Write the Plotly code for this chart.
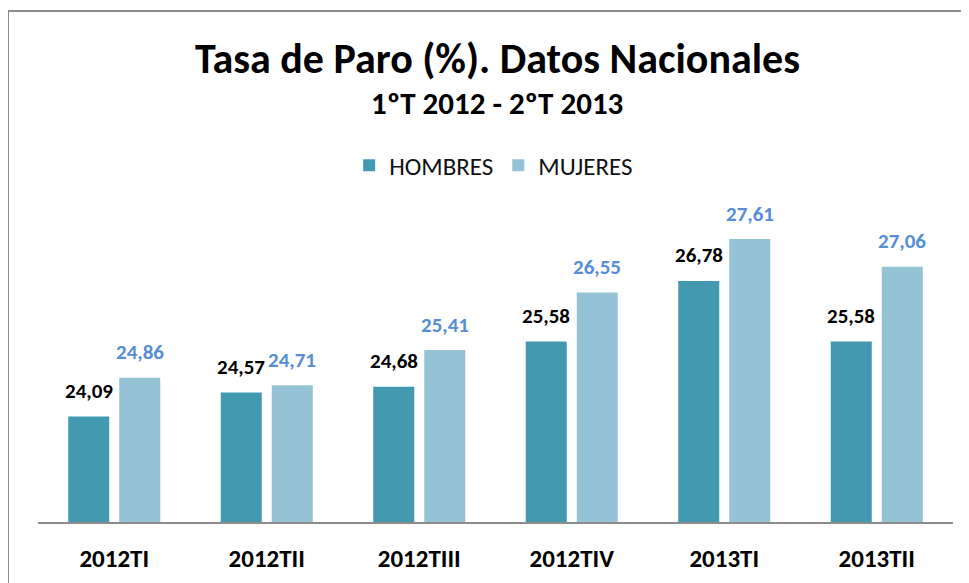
import plotly.graph_objects as go

categories = ["2012TI", "2012TII", "2012TIII", "2012TIV", "2013TI", "2013TII"]
hombres = [24.09, 24.57, 24.68, 25.58, 26.78, 25.58]
mujeres = [24.86, 24.71, 25.41, 26.55, 27.61, 27.06]
hombres_labels = ["24,09", "24,57", "24,68", "25,58", "26,78", "25,58"]
mujeres_labels = ["24,86", "24,71", "25,41", "26,55", "27,61", "27,06"]

FONT = "Carlito, Calibri, Lato, sans-serif"
C_H = "#4399B0"
C_M = "#93C3D4"

fig = go.Figure()
fig.add_trace(go.Bar(name="HOMBRES", x=categories, y=hombres, marker_color=C_H,
                     marker_line_width=0))
fig.add_trace(go.Bar(name="MUJERES", x=categories, y=mujeres, marker_color=C_M,
                     marker_line_width=0))

for i, c in enumerate(categories):
    fig.add_annotation(x=c, y=hombres[i], text="<b>%s</b>" % hombres_labels[i],
                       xshift=-25.5, yshift=25.5, showarrow=False, yanchor="middle",
                       font=dict(family=FONT, size=21, color="#000000"))
    fig.add_annotation(x=c, y=mujeres[i], text="<b>%s</b>" % mujeres_labels[i],
                       xshift=25.5, yshift=25.5, showarrow=False, yanchor="middle",
                       font=dict(family=FONT, size=21, color="#558ED5"))

fig.add_annotation(xref="paper", yref="paper", x=0.502, y=1.313,
                   text="<b>Tasa de Paro (%). Datos Nacionales</b>", showarrow=False,
                   yanchor="middle", font=dict(family=FONT, size=42, color="#000000"))
fig.add_annotation(xref="paper", yref="paper", x=0.502, y=1.186,
                   text="<b>1ºT 2012 - 2ºT 2013</b>", showarrow=False,
                   yanchor="middle", font=dict(family=FONT, size=31, color="#000000"))

# chart border
fig.add_shape(type="rect", xref="paper", yref="paper", x0=-0.0328, x1=1.2,
              y0=-0.4, y1=1.4476, line=dict(color="#8C8C8C", width=2), layer="below")

fig.update_layout(
    width=969, height=583,
    margin=dict(l=30, r=24, t=161, b=69),
    paper_bgcolor="white", plot_bgcolor="white",
    barmode="group", bargap=0.331, bargroupgap=0.196,
    showlegend=True,
    legend=dict(orientation="h", x=0.498, xanchor="center", y=1.01, yanchor="middle",
                font=dict(family=FONT, size=25, color="#111111"),
                itemwidth=30, traceorder="normal"),
    xaxis=dict(showline=True, linecolor="#8C8C8C", linewidth=2, ticks="",
               tickfont=dict(family=FONT, size=25, color="#000000"),
               tickprefix="<b>", ticksuffix="</b>", showgrid=False, ticklabelstandoff=13),
    yaxis=dict(range=[22, 29], visible=False, showgrid=False),
)

fig.write_html("out.html")
